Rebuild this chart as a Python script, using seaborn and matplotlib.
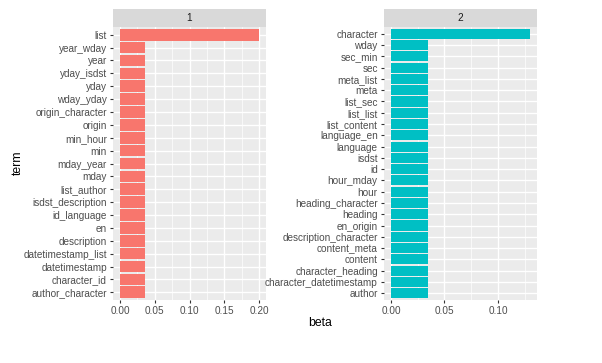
import matplotlib
matplotlib.use("Agg")
import matplotlib.pyplot as plt
import seaborn as sns
import pandas as pd
from matplotlib.ticker import MultipleLocator

terms_1 = ["list", "year_wday", "year", "yday_isdst", "yday", "wday_yday",
           "origin_character", "origin", "min_hour", "min", "mday_year", "mday",
           "list_author", "isdst_description", "id_language", "en", "description",
           "datetimestamp_list", "datetimestamp", "character_id", "author_character"]
beta_1 = [0.200] + [0.036] * 20

terms_2 = ["character", "wday", "sec_min", "sec", "meta_list", "meta", "list_sec",
           "list_list", "list_content", "language_en", "language", "isdst", "id",
           "hour_mday", "hour", "heading_character", "heading", "en_origin",
           "description_character", "content_meta", "content", "character_heading",
           "character_datetimestamp", "author"]
beta_2 = [0.130] + [0.035] * 23

topics = ["1", "2"]
colors = ["#F8766D", "#00BFC4"]
xticks_1 = [0.00, 0.05, 0.10, 0.15, 0.20]
xticks_2 = [0.00, 0.05, 0.10]

sns.set_theme(style="darkgrid")
plt.rcParams["font.family"] = ["Liberation Sans", "DejaVu Sans"]

W, H = 602, 363
fig = plt.figure(figsize=(W / 100, H / 100), dpi=100)

def px_axes(l, r, t, b):
    return fig.add_axes([l / W, 1 - b / H, (r - l) / W, (b - t) / H])

panels = [
    (terms_1, beta_1, topics[0], colors[0], xticks_1, 113, 266),
    (terms_2, beta_2, topics[1], colors[1], xticks_2, 384, 537),
]

for terms, beta, topic, col, xt, l, r in panels:
    ax = px_axes(l, r, 27, 300)
    df = pd.DataFrame({"term": terms, "beta": beta})
    sns.barplot(data=df, x="beta", y="term", orient="h", color=col,
                width=0.9, ax=ax, saturation=1, edgecolor="none")
    n = len(terms)
    mx = max(beta)
    ax.set_xlim(-0.05 * mx, 1.05 * mx)
    ax.set_ylim(n - 1 + 0.6, -0.6)
    ax.set_facecolor("#EBEBEB")
    ax.xaxis.set_major_locator(plt.FixedLocator(xt))
    ax.set_xticklabels([f"{v:.2f}" for v in xt])
    ax.xaxis.set_minor_locator(MultipleLocator(0.025))
    ax.grid(True, which="major", color="white", linewidth=1.0)
    ax.grid(True, which="minor", axis="x", color="white", linewidth=0.5)
    ax.set_axisbelow(True)
    for s in ax.spines.values():
        s.set_visible(False)
    ax.tick_params(axis="both", which="major", bottom=True, left=True,
                   length=2.5, width=0.8, color="#333333",
                   labelcolor="#4D4D4D", labelsize=7.2, pad=2)
    ax.tick_params(axis="both", which="minor", length=0)
    ax.set_xlabel("")
    ax.set_ylabel("")
    # strip
    sax = px_axes(l, r, 9, 27)
    sax.set_facecolor("#D9D9D9")
    sax.set_xticks([]); sax.set_yticks([])
    sax.grid(False)
    for s in sax.spines.values():
        s.set_visible(False)
    sax.text(0.5, 0.5, topic, ha="center", va="center", fontsize=7.2,
             color="#1A1A1A", transform=sax.transAxes)

fig.text(320 / W, 1 - 323 / H, "beta", ha="center", va="center", fontsize=8.8, color="black")
fig.text(18 / W, 1 - 163 / H, "term", ha="center", va="center", rotation=90,
         fontsize=8.8, color="black")

fig.savefig("out.png", dpi=100, facecolor="white")
